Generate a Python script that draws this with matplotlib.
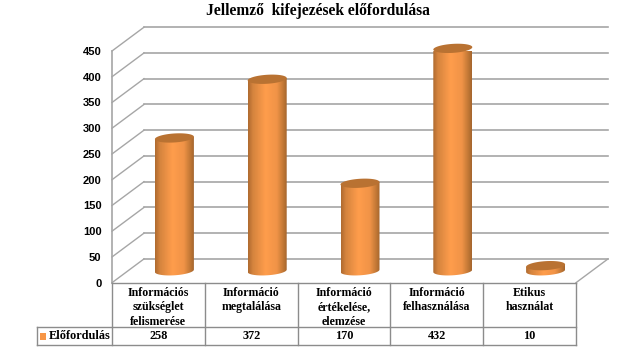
import matplotlib
matplotlib.use("Agg")
import matplotlib.pyplot as plt
from matplotlib.patches import PathPatch, Rectangle
from matplotlib.path import Path
from matplotlib.colors import LinearSegmentedColormap
import numpy as np

title = "Jellemző  kifejezések előfordulása"
categories = ["Információs\nszükséglet\nfelismerése", "Információ\nmegtalálása",
              "Információ\nértékelése,\nelemzése", "Információ\nfelhasználása",
              "Etikus\nhasználat"]
values = [258, 372, 170, 432, 10]
series_name = "Előfordulás"
y_ticks = [0, 50, 100, 150, 200, 250, 300, 350, 400, 450]

W, H = 638, 352
left, right, bottom, top = 112, 576, 282.7, 51
px_x = (right - left) / len(categories)   # pixels per category
px_y = (bottom - top) / 450               # pixels per value unit

depth_x = 32 / px_x
depth_y = 23.8 / px_y
grid_col = "#a6a6a6"
line_col = "#8c8c8c"

fig = plt.figure(figsize=(W / 100, H / 100), dpi=100)
ax = fig.add_axes([left / W, 1 - bottom / H, (right - left) / W, (bottom - top) / H])

# walls
for t in y_ticks:
    ax.plot([-0.5, -0.5 + depth_x], [t, t + depth_y], color=grid_col, lw=1.0, clip_on=False, zorder=1)
    ax.plot([-0.5 + depth_x, 4.5 + depth_x], [t + depth_y, t + depth_y], color=grid_col, lw=1.2,
            clip_on=False, zorder=1)
ax.plot([-0.5, -0.5], [0, 450], color=grid_col, lw=1.2, clip_on=False, zorder=1)
ax.plot([4.5, 4.5 + depth_x], [0, depth_y], color=grid_col, lw=1.0, clip_on=False, zorder=1)

# cylinders
cmap = LinearSegmentedColormap.from_list("cyl", [(0, "#b06b30"), (0.12, "#d5843e"), (0.45, "#ff9d4c"),
                                                 (0.75, "#f09347"), (0.92, "#bf7634"), (1, "#a6662f")])
rx = 19.5 / px_x
ry = 4.5 / px_y
tilt = 1.2 / px_y
t_all = np.linspace(0, 2 * np.pi, 80)
t_low = np.linspace(np.pi, 2 * np.pi, 40)
grad = np.linspace(0, 1, 64).reshape(1, -1)

for i, v in enumerate(values):
    cx = i + depth_x / 2
    y0 = depth_y / 2
    y1 = v + depth_y / 2
    # body outline: top half edge to bottom half edge
    bx = cx + rx * np.cos(t_low)
    by = y0 + ry * np.sin(t_low) + tilt * np.cos(t_low)
    verts = list(zip(bx, by)) + [(cx + rx, y1 + tilt), (cx - rx, y1 - tilt)]
    path = Path(verts + [verts[0]], closed=False)
    im = ax.imshow(grad, cmap=cmap, aspect="auto", extent=[cx - rx, cx + rx, y0 - ry - tilt, y1 + ry],
                   zorder=3 + i * 0.1, interpolation="bilinear")
    patch = PathPatch(path, transform=ax.transData, fc="none", ec="none")
    ax.add_patch(patch)
    im.set_clip_path(patch)
    im.set_clip_on(True)
    # top cap
    ex = cx + rx * np.cos(t_all)
    ey = y1 + ry * np.sin(t_all) + tilt * np.cos(t_all)
    ax.fill(ex, ey, color="#b97232", lw=0, zorder=3.05 + i * 0.1, clip_on=False)

# data table under the chart
y_head = -(327.3 - bottom) / px_y
y_foot = -(345.3 - bottom) / px_y
x_leg = -0.5 - (left - 36.7) / px_x
ax.plot([x_leg, 4.5], [y_head, y_head], color=line_col, lw=1.0, clip_on=False)
ax.plot([x_leg, 4.5], [y_foot, y_foot], color=line_col, lw=1.0, clip_on=False)
ax.plot([-0.5, 4.5], [0, 0], color=line_col, lw=1.0, clip_on=False, zorder=2)
ax.plot([x_leg, x_leg], [y_head, y_foot], color=line_col, lw=1.0, clip_on=False)
for i in range(len(categories) + 1):
    ax.plot([i - 0.5, i - 0.5], [0, y_foot], color=line_col, lw=1.0, clip_on=False)

serif = dict(family="Liberation Serif", weight="bold", color="black", clip_on=False)
for i, (c, v) in enumerate(zip(categories, values)):
    ax.text(i, -(286.5 - bottom) / px_y, c, ha="center", va="top", fontsize=8.6, linespacing=1.28, **serif)
    ax.text(i, (y_head + y_foot) / 2, str(v), ha="center", va="center", fontsize=8.8, **serif)

ax.add_patch(Rectangle((-0.5 - (left - 40) / px_x, -(339.5 - bottom) / px_y), 6.5 / px_x, 6.5 / px_y,
                       fc="#f79646", ec="none", clip_on=False))
ax.text(-0.5 - (left - 49) / px_x, (y_head + y_foot) / 2, series_name, ha="left", va="center",
        fontsize=8.8, **serif)

ax.set_xlim(-0.5, 4.5)
ax.set_ylim(0, 450)
ax.set_xticks([])
ax.set_yticks(y_ticks)
ax.tick_params(axis="y", length=0, pad=7.5)
for lab in ax.get_yticklabels():
    lab.set_family("Liberation Sans")
    lab.set_weight("bold")
    lab.set_fontsize(8)
for s in ax.spines.values():
    s.set_visible(False)
ax.patch.set_alpha(0)

fig.text(318 / W, 1 - 11 / H, title, ha="center", va="center", fontsize=11.2,
         family="Liberation Serif", weight="bold")

fig.savefig("out.png", dpi=100)
